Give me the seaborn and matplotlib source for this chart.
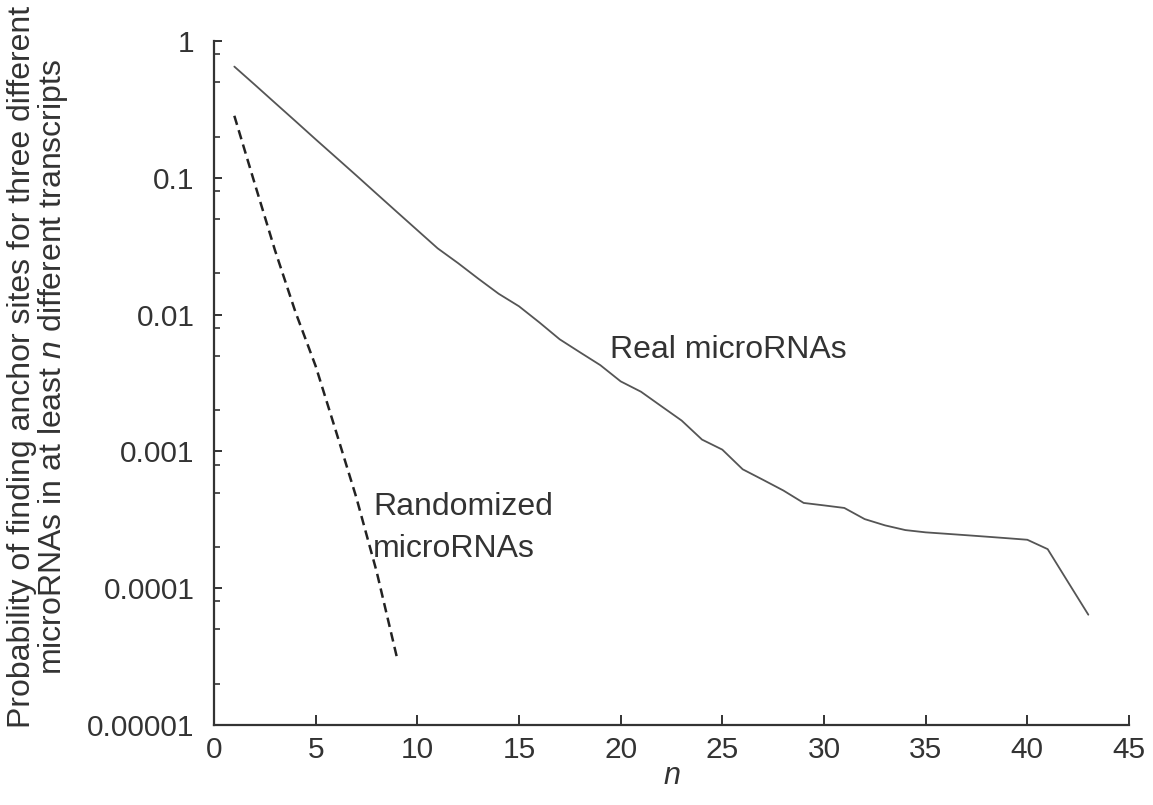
import matplotlib
matplotlib.use("Agg")
import matplotlib.pyplot as plt
import matplotlib.ticker as mticker
import seaborn as sns
import pandas as pd

# ---- data ----
n_real = list(range(1, 44))
p_real = [0.65, 0.48, 0.353, 0.26, 0.191, 0.141, 0.104, 0.0764, 0.0562, 0.0414,
          0.0305, 0.0238, 0.0183, 0.0142, 0.0115, 0.00877, 0.0066, 0.0053, 0.00427,
          0.00325, 0.00273, 0.00214, 0.00168, 0.00122, 0.00103, 0.00074, 0.00062,
          0.000518, 0.00042, 0.000403, 0.000386, 0.00032, 0.000288, 0.000266,
          0.000256, 0.00025, 0.000244, 0.000238, 0.000232, 0.000226, 0.000193,
          0.000111, 0.000064]

n_rand = list(range(1, 10))
p_rand = [0.284, 0.091, 0.0295, 0.0105, 0.0042, 0.0014, 0.00046, 0.000132, 0.000031]

x_ticks = [0, 5, 10, 15, 20, 25, 30, 35, 40, 45]
y_ticks = [1e-5, 1e-4, 1e-3, 1e-2, 1e-1, 1]
y_tick_labels = ["0.00001", "0.0001", "0.001", "0.01", "0.1", "1"]

real_label = "Real microRNAs"
rand_label = "Randomized\nmicroRNAs"
x_label = "$n$"
y_label = ("Probability of finding anchor sites for three different\n"
           "microRNAs in at least $n$ different transcripts")

# ---- style ----
sns.set_theme(style="ticks")
plt.rcParams["font.family"] = ["Liberation Sans", "DejaVu Sans"]
plt.rcParams["mathtext.fontset"] = "custom"
plt.rcParams["mathtext.it"] = "Liberation Sans:italic"
plt.rcParams["mathtext.rm"] = "Liberation Sans"

TXT = "#333333"
AX = "#333333"

fig = plt.figure(figsize=(11.53, 8.05), dpi=100)
ax = fig.add_axes([214 / 1153, 80 / 805, 915 / 1153, 684 / 805])

df_real = pd.DataFrame({"n": n_real, "p": p_real})
df_rand = pd.DataFrame({"n": n_rand, "p": p_rand})

sns.lineplot(data=df_real, x="n", y="p", ax=ax, color="#555555", linewidth=1.3)
sns.lineplot(data=df_rand, x="n", y="p", ax=ax, color="#222222", linewidth=1.8,
             linestyle=(0, (3.8, 2.2)))

ax.set_yscale("log")
ax.set_xlim(0, 45)
ax.set_ylim(1e-5, 1)

ax.set_xticks(x_ticks)
ax.set_xticklabels([str(t) for t in x_ticks])
ax.yaxis.set_major_locator(mticker.FixedLocator(y_ticks))
ax.yaxis.set_major_formatter(mticker.FixedFormatter(y_tick_labels))
ax.yaxis.set_minor_locator(mticker.LogLocator(base=10, subs=[2, 5, 8], numticks=20))
ax.yaxis.set_minor_formatter(mticker.NullFormatter())

for s in ["top", "right"]:
    ax.spines[s].set_visible(False)
for s in ["left", "bottom"]:
    ax.spines[s].set_color(AX)
    ax.spines[s].set_linewidth(1.6)

ax.tick_params(axis="x", which="major", direction="in", length=7, width=1.4,
               color=AX, labelsize=21.5, labelcolor=TXT, pad=8)
ax.tick_params(axis="y", which="major", direction="in", length=6, width=1.4,
               color=AX, labelsize=21.5, labelcolor=TXT, pad=14)
ax.tick_params(axis="y", which="minor", direction="in", length=4, width=1.2,
               color=AX)

ax.set_xlabel(x_label, fontsize=22, color=TXT)
ax.xaxis.set_label_coords(0.5, -0.052)
ax.set_ylabel(y_label, fontsize=23, color=TXT, linespacing=0.98)
ax.yaxis.set_label_coords(-0.157, 0.523)

ax.text(19.5, 0.0055, real_label, fontsize=23, color=TXT, va="center", ha="left")
ax.text(7.82, 2.75e-4, rand_label, fontsize=23, color=TXT, va="center", ha="left",
        linespacing=1.5)

ax.set_facecolor("white")
fig.patch.set_facecolor("white")

fig.savefig("out.png", dpi=100)
